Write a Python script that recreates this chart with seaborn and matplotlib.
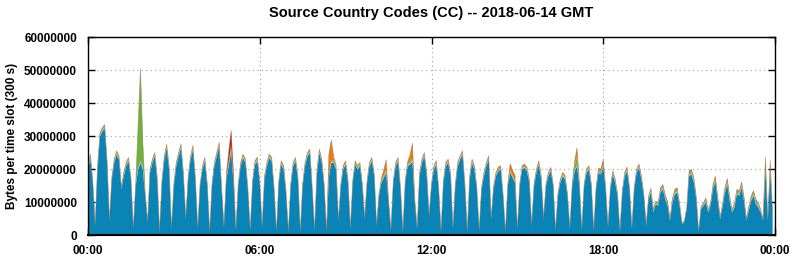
import numpy as np
import pandas as pd
import seaborn as sns
import matplotlib
matplotlib.use("Agg")
import matplotlib.pyplot as plt

# bytes per 300 s slot for the largest source country, in millions
# (one line = 24 slots = 2 hours)
blue = [
    20, 23.5, 16, 3, 20, 30, 31.5, 32.5, 22, 4.5, 17, 22, 24.5, 23, 14, 18, 21, 22.5, 17, 2, 15, 20, 22, 20,
    12, 4, 19, 22, 24, 17, 1, 16, 23, 26.5, 20, 2, 15, 21, 24, 26.5, 18, 5, 17, 23, 26, 17, 2, 15,
    20, 22.5, 15, 1, 15, 21, 24, 27, 14, 2.5, 17, 21, 25.5, 16, 1.5, 15, 21, 23.5, 22, 14, 1.5, 16, 21.5, 22.5,
    16, 2.5, 17, 21, 23.5, 22.5, 14, 1, 16, 21.5, 20, 13, 1, 15, 21, 22.5, 17, 1, 15, 21, 24, 25, 14, 1.5,
    19, 25, 22, 15, 1, 18, 22, 22, 20, 4.5, 15, 20, 21.5, 16, 2, 16, 21.5, 20, 21, 15, 5, 16, 21, 22.5,
    18, 3, 12, 16, 17.5, 19, 10, 1.5, 16, 21, 22.5, 14, 1, 16, 21, 21.5, 22.5, 10, 2, 18, 22, 24, 18, 6,
    15, 20, 21.5, 14, 1, 16, 21, 22, 18, 2, 15, 21, 23, 24.5, 15, 1, 17, 22, 20, 14, 1.5, 14, 18, 21,
    23, 5, 14, 18, 19.5, 20, 12, 1, 15, 19, 17.5, 16, 2, 15, 20, 20.5, 19.5, 16, 3, 15, 19, 21.5, 17, 5,
    15, 18, 19.5, 15, 1.5, 12, 16, 18, 17, 12, 2, 15, 19.5, 21, 15, 1.5, 15, 19, 20, 15, 1.5, 14, 19, 18.5,
    21, 14, 2.5, 14, 18.5, 16, 12, 1, 13, 18, 19.5, 14, 2, 14, 19, 20.5, 17, 12, 3, 11, 13, 7, 9.5, 9,
    13, 14, 11, 9, 4.5, 10, 12.5, 13, 9, 3.5, 4, 8, 18, 18.5, 16, 11, 1, 8, 9, 10, 7, 9, 14, 16.5,
    10.5, 5, 8.5, 13, 15.5, 10.5, 7, 8.5, 12.5, 12, 14.5, 10.5, 4.5, 7.5, 10.5, 12, 9.5, 8.5, 7, 4.5, 19.5, 4.5, 19.5, 6,
]

# smaller countries, in units of 0.1 million bytes
light_blue = [
    3,3,2,1,2,3,3,3,2,1,2,3,3,3,2,3,3,3,2,1,2,3,5,4,
    2,1,3,3,3,3,1,2,3,3,3,1,2,3,3,3,3,1,3,3,3,2,1,2,
    3,3,2,1,2,3,3,3,2,1,3,3,3,2,1,2,3,3,3,2,1,2,3,3,
    2,1,3,3,3,3,2,1,2,3,3,2,1,2,3,3,3,1,2,3,3,3,2,1,
    3,3,3,2,1,2,3,3,3,1,2,3,3,3,1,2,3,3,3,2,1,2,3,3,
    2,1,2,3,3,3,1,1,2,3,3,2,1,2,3,3,3,2,1,3,3,3,3,1,
    2,3,3,2,1,2,3,3,3,1,2,3,3,3,2,1,3,3,3,2,1,2,3,3,
    3,1,2,3,3,3,2,1,2,3,3,3,1,2,3,3,3,3,1,2,3,3,3,1,
    2,3,3,2,1,2,3,3,3,2,1,2,3,3,3,1,2,3,3,2,1,2,3,3,
    3,2,1,2,3,3,2,1,2,3,3,2,1,2,3,3,3,2,1,2,3,2,2,2,
    3,3,3,3,2,3,3,3,2,1,1,1,3,3,3,2,0,2,2,3,2,2,3,3,
    3,2,3,3,3,3,2,3,3,3,3,3,1,3,3,3,3,3,2,1,4,1,4,2,
]
green = [
    3,3,2,1,2,3,3,3,2,1,2,3,3,3,2,3,3,3,2,1,2,120,270,70,
    2,1,3,3,3,3,1,2,3,3,3,1,2,3,3,4,3,1,3,3,5,2,1,2,
    3,3,2,1,2,3,3,4,2,1,3,3,5,2,1,2,3,3,3,2,1,2,3,4,
    2,1,3,3,3,3,2,1,2,3,3,2,1,2,3,3,3,1,2,3,3,3,2,1,
    3,3,3,2,1,2,4,3,3,1,2,3,3,3,1,2,3,3,3,2,1,2,3,3,
    2,1,2,3,3,4,1,1,2,3,3,2,1,2,3,3,4,2,1,3,3,3,3,1,
    2,3,3,2,1,2,3,3,3,1,2,3,3,3,2,1,3,3,3,2,1,2,3,3,
    3,1,2,3,3,3,2,1,2,3,3,3,1,2,3,3,3,3,1,2,3,3,3,1,
    2,3,3,2,1,2,3,3,3,2,1,2,15,25,5,1,2,3,3,2,1,2,4,6,
    3,2,1,2,3,3,2,1,2,3,3,2,1,2,3,3,3,2,1,3,4,3,3,3,
    5,5,4,4,2,4,5,5,3,1,1,1,6,5,5,3,0,3,3,5,3,3,5,5,
    5,2,4,5,6,5,3,4,5,5,5,5,2,4,5,6,5,5,3,2,30,2,15,3,
]
orange = [
    4,4,2,1,3,4,4,4,3,1,2,4,4,4,2,4,4,4,2,1,2,6,8,5,
    2,1,4,4,4,4,1,2,4,4,4,1,2,4,4,4,4,1,4,4,4,2,1,2,
    4,4,2,1,2,4,4,4,2,1,5,8,10,4,1,2,4,4,4,2,1,2,4,4,
    2,1,4,4,4,4,2,1,2,4,4,2,1,2,4,4,4,1,2,4,4,4,2,1,
    4,4,4,2,1,60,60,10,5,1,2,4,4,4,1,2,4,4,4,3,2,2,4,4,
    2,1,2,6,15,30,5,1,2,4,4,2,1,2,6,20,45,5,1,4,4,4,4,1,
    2,4,4,2,1,2,4,4,4,1,2,4,4,4,2,1,4,4,4,2,1,2,4,4,
    4,1,2,4,4,4,2,1,2,20,15,15,1,2,4,4,5,4,1,2,4,4,4,1,
    2,4,4,2,1,2,4,4,4,2,1,2,10,25,5,1,2,4,4,2,1,2,5,5,
    4,2,1,2,4,4,2,1,2,4,5,2,1,2,4,4,4,2,1,3,4,3,3,3,
    4,4,3,3,1,3,4,4,2,1,1,1,5,4,4,2,0,2,2,3,2,2,4,4,
    3,1,3,4,5,4,2,3,4,4,5,4,1,3,4,4,4,4,2,1,5,2,8,2,
]
red = [
    1,1,1,0,1,1,1,1,1,0,1,1,1,1,1,1,1,1,1,0,1,2,3,2,
    1,0,1,1,1,1,0,1,1,1,1,0,1,1,1,1,1,0,1,1,1,1,0,1,
    1,1,1,0,1,1,1,1,1,0,2,30,45,20,0,1,1,1,1,1,0,1,1,1,
    1,0,1,1,1,1,1,0,1,1,1,1,0,1,1,1,1,0,1,1,1,1,1,0,
    1,1,1,1,0,2,2,1,1,0,1,1,1,1,0,1,1,1,1,1,1,1,1,1,
    1,0,1,1,2,2,1,0,1,1,1,1,0,1,1,2,2,1,0,1,1,1,1,0,
    1,1,1,1,0,1,1,1,1,0,1,1,1,1,1,0,1,1,1,1,0,1,1,1,
    1,0,1,1,1,1,1,0,1,1,1,1,0,1,1,1,1,1,0,1,1,1,1,0,
    1,1,1,1,0,1,1,1,1,1,0,1,1,2,1,0,1,1,1,1,0,1,1,2,
    8,1,0,1,1,1,1,0,1,1,1,1,0,1,1,1,1,1,0,1,2,1,1,1,
    2,2,2,2,1,2,2,2,1,0,1,1,2,2,2,1,0,1,1,2,1,1,2,2,
    2,1,1,2,3,2,1,2,2,2,3,2,1,2,2,2,2,2,1,1,3,1,4,1,
]

tick_hours = [0, 6, 12, 18, 24]
tick_labels = ["00:00", "06:00", "12:00", "18:00", "00:00"]
layer_colors = ["#0a83b6", "#94c8dd", "#6cb33e", "#ea7d0c", "#b8261c"]

df = pd.DataFrame({
    "hour": np.arange(len(blue)) / 12.0,
    "blue": np.array(blue) * 1e6,
    "light_blue": np.array(light_blue) * 1e5,
    "green": np.array(green) * 1e5,
    "orange": np.array(orange) * 1e5,
    "red": np.array(red) * 1e5,
})

sns.set_theme(style="ticks")
plt.rcParams['font.family'] = ['Liberation Sans', 'DejaVu Sans']
plt.rcParams['text.color'] = 'black'
plt.rcParams['xtick.color'] = 'black'
plt.rcParams['ytick.color'] = 'black'
palette = sns.color_palette(layer_colors)

fig = plt.figure(figsize=(7.94, 2.6), dpi=100)
ax = fig.add_axes([88 / 794, 1 - 235.3 / 260, 687 / 794, 197.8 / 260])

layers = ["blue", "light_blue", "green", "orange", "red"]
ax.stackplot(df["hour"], *[df[c] for c in layers], colors=palette,
             edgecolor="none", linewidth=0, zorder=2)
# thin outline along the top of the stack
sns.lineplot(x=df["hour"], y=df[layers].sum(axis=1), ax=ax, color="#8a5a30",
             linewidth=0.5, alpha=0.5, zorder=3)

ax.set_xlim(0, 24)
ax.set_ylim(0, 60000000)
ax.set_xticks(tick_hours)
ax.set_xticklabels(tick_labels)
ax.set_yticks(np.arange(0, 60000001, 10000000))
ax.set_yticklabels([str(v) for v in range(0, 60000001, 10000000)])
ax.set_xlabel("")
ax.set_ylabel("")

ax.grid(True, linestyle=(0, (1, 3)), color="#a0a0a0", linewidth=0.8, zorder=1)
ax.set_axisbelow(True)
ax.tick_params(direction="in", length=5, width=1, top=True, right=True,
               labelsize=8.5, colors="black")
ax.tick_params(axis="x", pad=7)
ax.tick_params(axis="y", pad=8)
for lab in ax.get_xticklabels() + ax.get_yticklabels():
    lab.set_fontweight("bold")
for side in ax.spines.values():
    side.set_color("black")
    side.set_linewidth(1)
ax.spines["bottom"].set_linewidth(1.5)

fig.text(431.5 / 794, 1 - 13 / 260, "Source Country Codes (CC) -- 2018-06-14 GMT",
         ha="center", va="center", fontsize=10.5, fontweight="bold")
fig.text(12 / 794, 1 - 136 / 260, "Bytes per time slot (300 s)", rotation=90,
         ha="center", va="center", fontsize=8.5, fontweight="bold")

fig.savefig("out.png", dpi=100)
